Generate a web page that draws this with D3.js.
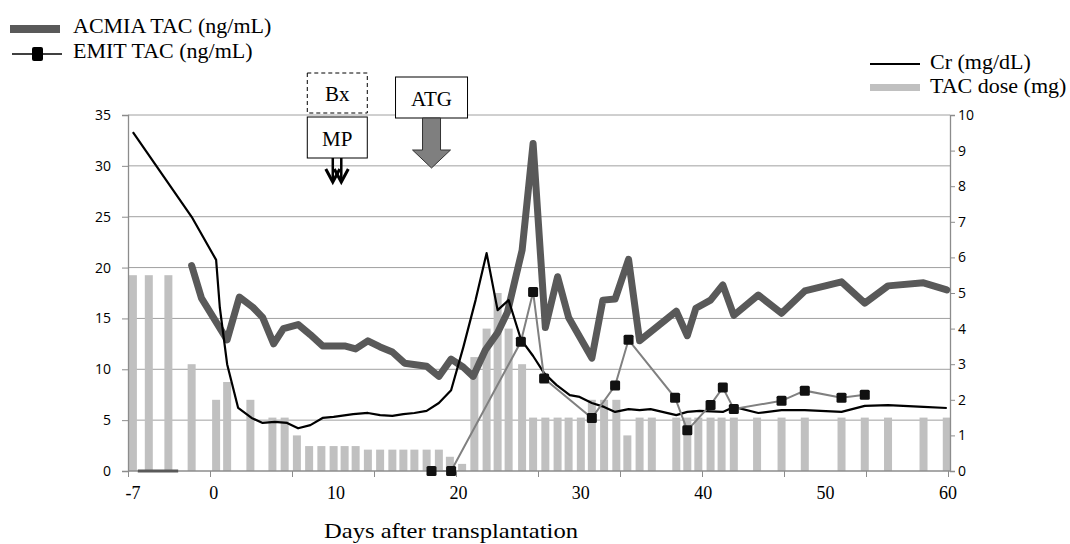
<!DOCTYPE html>
<html>
<head>
<meta charset="utf-8">
<script src="https://cdn.jsdelivr.net/npm/d3@7"></script>
<style>
  body { margin: 0; background: #fff; }
  svg { display: block; }
  .serif { font-family: "Liberation Serif", "Times New Roman", serif; }
  .tick text { font-family: "Open Sans", sans-serif; font-size: 14px; fill: #000; }
</style>
</head>
<body>
<svg id="chart" width="1070" height="544"></svg>
<script>
// days after transplantation
var doseDays = [-6.6, -5.3, -3.7, -1.8, 0.2, 1.1, 3.0, 4.8, 5.8, 6.8, 7.8, 8.8, 9.8, 10.7, 11.6, 12.6, 13.6, 14.6, 15.5, 16.4, 17.4, 18.4, 19.3, 20.3, 21.3, 22.3, 23.2, 24.1, 25.2, 26.1, 27.1, 28.1, 29.0, 30.0, 30.9, 31.9, 32.9, 33.8, 34.8, 35.8, 37.8, 38.7, 39.6, 40.6, 41.5, 42.5, 44.4, 46.4, 48.3, 51.3, 53.2, 55.1, 58.0, 59.9];
var doseMg = [5.5, 5.5, 5.5, 3.0, 2.0, 2.5, 2.0, 1.5, 1.5, 1.0, 0.7, 0.7, 0.7, 0.7, 0.7, 0.6, 0.6, 0.6, 0.6, 0.6, 0.6, 0.6, 0.4, 0.2, 3.2, 4.0, 5.0, 4.0, 3.0, 1.5, 1.5, 1.5, 1.5, 1.5, 2.0, 2.0, 2.0, 1.0, 1.5, 1.5, 1.5, 1.5, 1.5, 1.5, 1.5, 1.5, 1.5, 1.5, 1.5, 1.5, 1.5, 1.5, 1.5, 1.5];

var acmiaPreDays = [-6.2, -2.9];
var acmiaPreVals = [0, 0];
var acmiaDays = [-1.8, -1.0, 1.1, 2.1, 3.2, 4.0, 4.9, 5.7, 6.9, 7.9, 8.9, 10.7, 11.6, 12.6, 13.6, 14.6, 15.6, 17.4, 18.4, 19.4, 20.4, 21.2, 22.2, 23.2, 24.0, 25.2, 26.1, 27.1, 28.1, 29.0, 30.9, 31.8, 32.8, 33.9, 34.8, 37.8, 38.7, 39.4, 40.6, 41.6, 42.5, 44.5, 46.4, 48.3, 51.3, 53.2, 55.1, 58.0, 59.9];
var acmiaVals = [20.2, 17.0, 12.9, 17.1, 16.1, 15.1, 12.5, 14.0, 14.4, 13.4, 12.3, 12.3, 12.0, 12.8, 12.2, 11.7, 10.6, 10.3, 9.3, 11.0, 10.2, 9.3, 11.9, 13.6, 15.6, 21.7, 32.2, 14.1, 19.1, 15.1, 11.1, 16.8, 16.9, 20.8, 12.8, 15.7, 13.3, 16.0, 16.8, 18.3, 15.3, 17.3, 15.5, 17.7, 18.6, 16.5, 18.2, 18.5, 17.8];

var emitDays = [17.8, 19.4, 25.1, 26.1, 27.0, 30.9, 32.8, 33.9, 37.7, 38.7, 40.6, 41.6, 42.5, 46.4, 48.3, 51.3, 53.2];
var emitVals = [0, 0, 12.7, 17.6, 9.1, 5.2, 8.4, 12.9, 7.2, 4.0, 6.5, 8.2, 6.1, 6.9, 7.9, 7.2, 7.5];

var crDays = [-6.6, -1.8, 0.2, 0.5, 1.1, 2.0, 3.1, 4.0, 5.0, 6.0, 6.9, 7.9, 8.9, 9.8, 11.4, 12.6, 13.6, 14.6, 15.5, 16.4, 17.4, 18.4, 19.4, 20.4, 21.4, 22.3, 23.2, 24.1, 25.1, 26.1, 27.0, 28.0, 29.1, 29.9, 30.9, 31.9, 32.8, 33.9, 34.8, 35.7, 37.8, 38.7, 39.7, 41.6, 42.5, 44.5, 46.4, 48.3, 51.3, 53.2, 55.1, 58.0, 59.9];
var crVals = [9.52, 7.14, 5.93, 4.6, 3.0, 1.77, 1.49, 1.35, 1.38, 1.35, 1.2, 1.29, 1.49, 1.52, 1.6, 1.63, 1.57, 1.55, 1.6, 1.63, 1.69, 1.91, 2.27, 3.48, 4.8, 6.12, 4.52, 4.8, 3.7, 3.23, 2.75, 2.42, 2.13, 2.08, 1.91, 1.8, 1.66, 1.74, 1.71, 1.74, 1.57, 1.66, 1.69, 1.66, 1.8, 1.63, 1.71, 1.71, 1.66, 1.83, 1.85, 1.8, 1.77];

var xLabels = [-7, 0, 10, 20, 30, 40, 50, 60];
var leftTicks = [0, 5, 10, 15, 20, 25, 30, 35];
var rightTicks = [0, 1, 2, 3, 4, 5, 6, 7, 8, 9, 10];

var svg = d3.select("#chart");

var x = d3.scaleLinear().domain([-7, 60]).range([128, 948]);
var yL = d3.scaleLinear().domain([0, 35]).range([471, 115]);
var yR = d3.scaleLinear().domain([0, 10]).range([471, 115]);

var zip = function(a, b) { return a.map(function(d, i) { return [d, b[i]]; }); };

// gridlines
svg.append("g").selectAll("line")
  .data(leftTicks.slice(1))
  .join("line")
  .attr("x1", 128).attr("x2", 950)
  .attr("y1", function(d) { return yL(d); })
  .attr("y2", function(d) { return yL(d); })
  .attr("stroke", "#a0a0a0").attr("stroke-width", 1);

// TAC dose bars
svg.append("g").selectAll("rect")
  .data(zip(doseDays, doseMg))
  .join("rect")
  .attr("x", function(d) { return x(d[0]) - 4; })
  .attr("width", 8)
  .attr("y", function(d) { return yR(d[1]); })
  .attr("height", function(d) { return yR(0) - yR(d[1]); })
  .attr("fill", "#c0c0c0");

// axes
var leftAxis = svg.append("g")
  .attr("transform", "translate(128,0)")
  .call(d3.axisLeft(yL).tickValues(leftTicks).tickSize(6).tickPadding(11));
var rightAxis = svg.append("g")
  .attr("transform", "translate(950,0)")
  .call(d3.axisRight(yR).tickValues(rightTicks).tickSize(5).tickPadding(3));
var xTickVals = d3.range(11).map(function(i) { return -7 + i * 6.7; });
var bottomAxis = svg.append("g")
  .attr("transform", "translate(0,471)")
  .call(d3.axisBottom(x).tickValues(xTickVals).tickSize(6).tickFormat(""));

[leftAxis, rightAxis, bottomAxis].forEach(function(g) {
  g.select(".domain").attr("stroke", "#8c8c8c").attr("stroke-width", 1.3);
  g.selectAll(".tick line").attr("stroke", "#8c8c8c");
});
bottomAxis.select(".domain").attr("d", "M128,0H950");

svg.append("g").selectAll("text")
  .data(xLabels)
  .join("text")
  .attr("class", "serif")
  .attr("x", function(d) { return x(d) + (d === -7 ? 5 : 0); })
  .attr("y", 499)
  .attr("text-anchor", "middle")
  .attr("font-size", 18)
  .text(function(d) { return d; });

svg.append("text")
  .attr("class", "serif")
  .attr("x", 324).attr("y", 538)
  .attr("font-size", 21)
  .attr("textLength", 254).attr("lengthAdjust", "spacingAndGlyphs")
  .text("Days after transplantation");

// ACMIA TAC
var lineL = d3.line()
  .x(function(d) { return x(d[0]); })
  .y(function(d) { return yL(d[1]); });
var lineR = d3.line()
  .x(function(d) { return x(d[0]); })
  .y(function(d) { return yR(d[1]); });

svg.append("path")
  .attr("d", lineL(zip(acmiaPreDays, acmiaPreVals)))
  .attr("fill", "none").attr("stroke", "#595959").attr("stroke-width", 3);
svg.append("path")
  .attr("d", lineL(zip(acmiaDays, acmiaVals)))
  .attr("fill", "none").attr("stroke", "#595959")
  .attr("stroke-width", 7).attr("stroke-linejoin", "round").attr("stroke-linecap", "round");

// Cr
svg.append("path")
  .attr("d", lineR(zip(crDays, crVals)))
  .attr("fill", "none").attr("stroke", "#000")
  .attr("stroke-width", 2.2).attr("stroke-linejoin", "round");

// EMIT TAC
svg.append("path")
  .attr("d", lineL(zip(emitDays, emitVals)))
  .attr("fill", "none").attr("stroke", "#808080").attr("stroke-width", 2);
svg.append("g").selectAll("rect")
  .data(zip(emitDays, emitVals))
  .join("rect")
  .attr("x", function(d) { return x(d[0]) - 5; })
  .attr("y", function(d) { return yL(d[1]) - 5; })
  .attr("width", 10).attr("height", 10).attr("rx", 1.5)
  .attr("fill", "#111");

// annotations: Bx / MP / ATG
var bxX = x(10.1), atgX = x(17.8);
svg.append("rect").attr("x", bxX - 30).attr("y", 73).attr("width", 60).attr("height", 40)
  .attr("fill", "#fff").attr("stroke", "#000").attr("stroke-dasharray", "4,3");
svg.append("text").attr("class", "serif").attr("x", bxX).attr("y", 101)
  .attr("text-anchor", "middle").attr("font-size", 21).text("Bx");
svg.append("rect").attr("x", bxX - 30).attr("y", 117).attr("width", 60).attr("height", 41)
  .attr("fill", "#fff").attr("stroke", "#000");
svg.append("text").attr("class", "serif").attr("x", bxX).attr("y", 146)
  .attr("text-anchor", "middle").attr("font-size", 21).text("MP");
[-4.5, 4].forEach(function(dx) {
  var ax = bxX + dx;
  svg.append("line").attr("x1", ax).attr("x2", ax).attr("y1", 158).attr("y2", 181)
    .attr("stroke", "#000").attr("stroke-width", 2.5);
  svg.append("path").attr("d", "M" + (ax - 7) + ",169L" + ax + ",182L" + (ax + 7) + ",169")
    .attr("fill", "none").attr("stroke", "#000").attr("stroke-width", 3);
});

svg.append("rect").attr("x", atgX - 36).attr("y", 77).attr("width", 72).attr("height", 41)
  .attr("fill", "#fff").attr("stroke", "#000");
svg.append("text").attr("class", "serif").attr("x", atgX).attr("y", 106)
  .attr("text-anchor", "middle").attr("font-size", 21).text("ATG");
svg.append("path")
  .attr("d", "M" + (atgX - 9) + ",118V150H" + (atgX - 19) + "L" + atgX + ",168L" + (atgX + 19) + ",150H" + (atgX + 9) + "V118Z")
  .attr("fill", "#7f7f7f").attr("stroke", "#333").attr("stroke-width", 1);

// legends
svg.append("line").attr("x1", 10).attr("x2", 60).attr("y1", 29).attr("y2", 29)
  .attr("stroke", "#595959").attr("stroke-width", 8);
svg.append("text").attr("class", "serif").attr("x", 73).attr("y", 33)
  .attr("font-size", 22).text("ACMIA TAC (ng/mL)");
svg.append("line").attr("x1", 12).attr("x2", 62).attr("y1", 54).attr("y2", 54)
  .attr("stroke", "#000").attr("stroke-width", 1.3);
svg.append("rect").attr("x", 32).attr("y", 47).attr("width", 11).attr("height", 14).attr("rx", 2)
  .attr("fill", "#000");
svg.append("text").attr("class", "serif").attr("x", 73).attr("y", 58)
  .attr("font-size", 22).text("EMIT TAC (ng/mL)");

svg.append("line").attr("x1", 870).attr("x2", 920).attr("y1", 64).attr("y2", 64)
  .attr("stroke", "#000").attr("stroke-width", 2);
svg.append("text").attr("class", "serif").attr("x", 930).attr("y", 69)
  .attr("font-size", 22).text("Cr (mg/dL)");
svg.append("rect").attr("x", 870).attr("y", 84).attr("width", 50).attr("height", 7)
  .attr("fill", "#c0c0c0");
svg.append("text").attr("class", "serif").attr("x", 930).attr("y", 93)
  .attr("font-size", 22).text("TAC dose (mg)");
</script>
</body>
</html>
